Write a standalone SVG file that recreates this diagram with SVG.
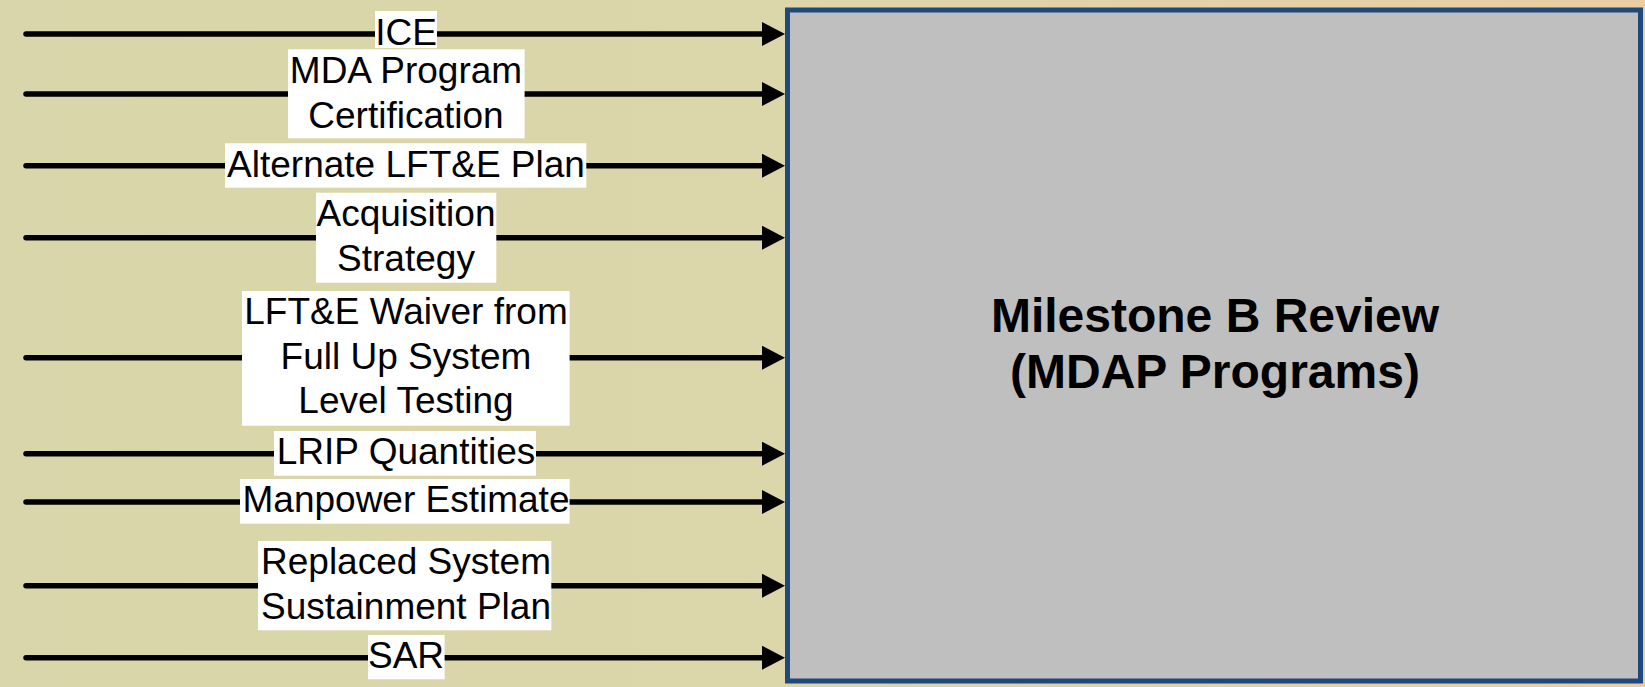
<svg xmlns="http://www.w3.org/2000/svg" width="1645" height="687" viewBox="0 0 1645 687">
  <defs>
    <linearGradient id="bg" x1="0" y1="0" x2="1" y2="0">
      <stop offset="0" stop-color="#d8d6aa"/>
      <stop offset="0.5" stop-color="#dcd6a9"/>
      <stop offset="1" stop-color="#e9cea2"/>
    </linearGradient>
    <marker id="arrow" markerUnits="userSpaceOnUse" markerWidth="24" markerHeight="24" refX="3" refY="12" orient="auto">
      <path d="M0,0 L23,12 L0,24 Z" fill="#000"/>
    </marker>
    <style>
      .conn { stroke: #000; stroke-width: 5.5; stroke-linecap: round; fill: none; marker-end: url(#arrow); }
      .lblbg { fill: #fff; }
      .lbl { font-family: "Liberation Sans", Arial, sans-serif; font-size: 37px; fill: #000; text-anchor: middle; }
      .title { font-family: "Liberation Sans", Arial, sans-serif; font-size: 48px; font-weight: bold; fill: #000; text-anchor: middle; }
      .node { fill: #bfbfbf; stroke: #1f497d; stroke-width: 5; }
    </style>
  </defs>
  <rect x="0" y="0" width="1645" height="687" fill="url(#bg)"/>

  <g id="connectors">
    <g id="c-ice">
      <line class="conn" x1="26" y1="34" x2="765" y2="34"/>
      <rect class="lblbg" x="375" y="11" width="62" height="37"/>
      <text class="lbl" x="406" y="45">ICE</text>
    </g>
    <g id="c-mda">
      <line class="conn" x1="26" y1="94" x2="765" y2="94"/>
      <rect class="lblbg" x="288" y="49.3" width="236.6" height="89"/>
      <text class="lbl" x="406" y="82.7">MDA Program</text>
      <text class="lbl" x="406" y="127.7">Certification</text>
    </g>
    <g id="c-alt">
      <line class="conn" x1="26" y1="165.7" x2="765" y2="165.7"/>
      <rect class="lblbg" x="225" y="143.3" width="361.3" height="44.4"/>
      <text class="lbl" x="406" y="177">Alternate LFT&amp;E Plan</text>
    </g>
    <g id="c-acq">
      <line class="conn" x1="26" y1="237.7" x2="765" y2="237.7"/>
      <rect class="lblbg" x="316" y="192.7" width="180.3" height="90"/>
      <text class="lbl" x="406" y="226.4">Acquisition</text>
      <text class="lbl" x="406" y="271">Strategy</text>
    </g>
    <g id="c-waiver">
      <line class="conn" x1="26" y1="357.7" x2="765" y2="357.7"/>
      <rect class="lblbg" x="242" y="291" width="327.6" height="134.7"/>
      <text class="lbl" x="406" y="324">LFT&amp;E Waiver from</text>
      <text class="lbl" x="406" y="368.5">Full Up System</text>
      <text class="lbl" x="406" y="413">Level Testing</text>
    </g>
    <g id="c-lrip">
      <line class="conn" x1="26" y1="453.7" x2="765" y2="453.7"/>
      <rect class="lblbg" x="274" y="431" width="262" height="44.7"/>
      <text class="lbl" x="406" y="464">LRIP Quantities</text>
    </g>
    <g id="c-manpower">
      <line class="conn" x1="26" y1="502" x2="765" y2="502"/>
      <rect class="lblbg" x="240" y="479" width="329.6" height="44.7"/>
      <text class="lbl" x="406" y="511.7">Manpower Estimate</text>
    </g>
    <g id="c-replaced">
      <line class="conn" x1="26" y1="585.7" x2="765" y2="585.7"/>
      <rect class="lblbg" x="258" y="541" width="293.3" height="89.3"/>
      <text class="lbl" x="406" y="574">Replaced System</text>
      <text class="lbl" x="406" y="619">Sustainment Plan</text>
    </g>
    <g id="c-sar">
      <line class="conn" x1="26" y1="657.7" x2="765" y2="657.7"/>
      <rect class="lblbg" x="368" y="635" width="76.6" height="44.3"/>
      <text class="lbl" x="406" y="667.7">SAR</text>
    </g>
  </g>

  <g id="milestone-b-review">
    <rect class="node" x="787.5" y="10" width="853" height="671"/>
    <text class="title" x="1215" y="332">Milestone B Review</text>
    <text class="title" x="1215" y="388">(MDAP Programs)</text>
  </g>
</svg>
